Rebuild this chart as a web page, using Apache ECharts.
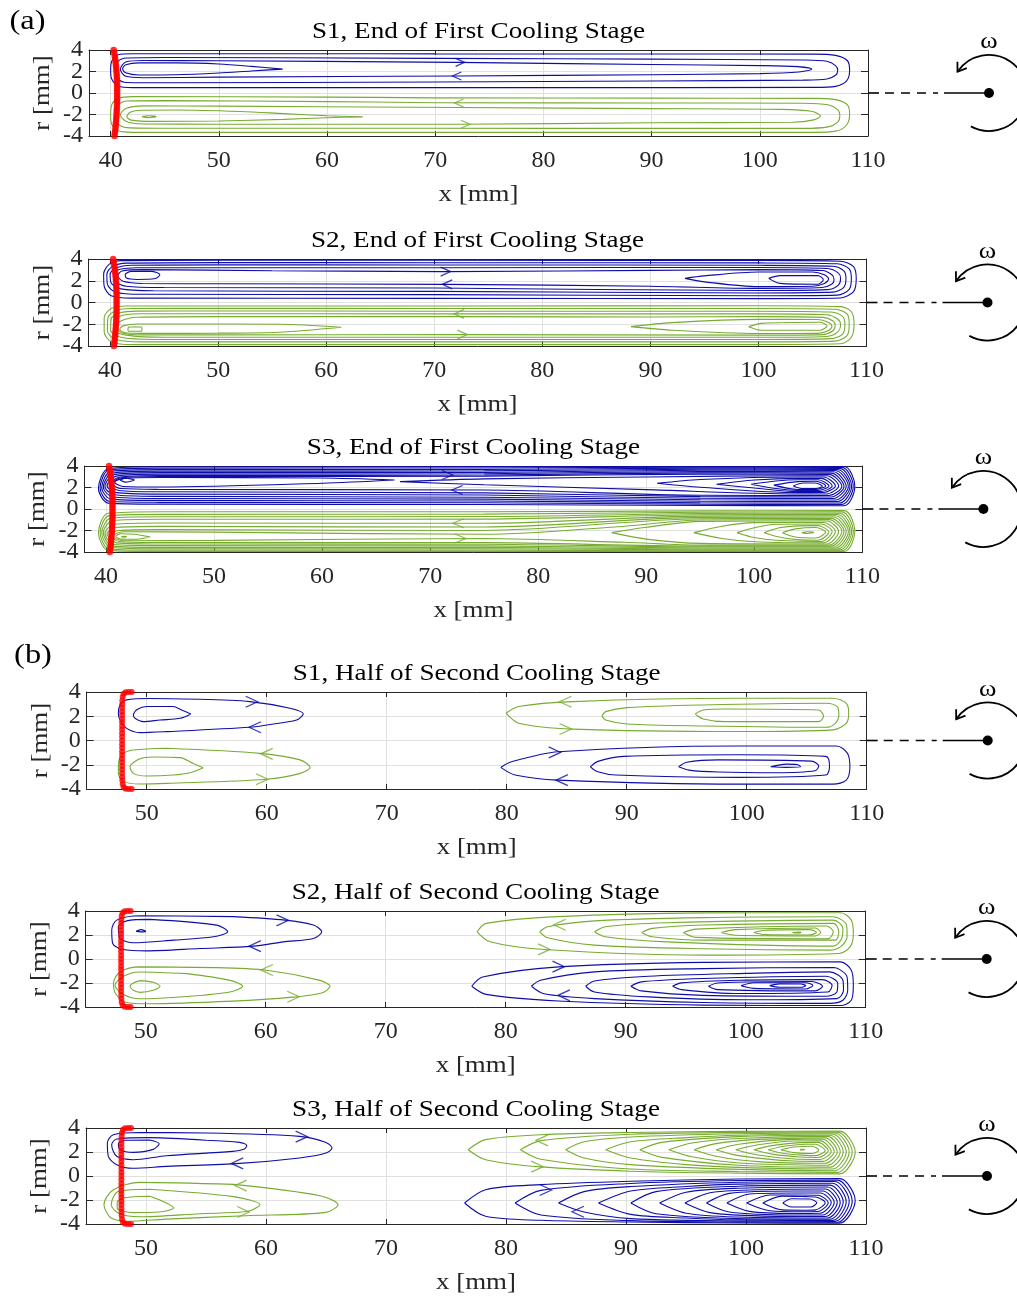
<!DOCTYPE html>
<html>
<head>
<meta charset="utf-8">
<script src="https://cdn.jsdelivr.net/npm/echarts/dist/echarts.min.js"></script>
<style>
html, body { margin: 0; padding: 0; background: #ffffff; }
#chart { width: 1017px; height: 1299px; }
</style>
</head>
<body>
<div id="chart"></div>
<script>
// ---------- tick values and titles ----------
const xTicksFirst = [40, 50, 60, 70, 80, 90, 100, 110];
const xTicksSecond = [50, 60, 70, 80, 90, 100, 110];
const rTicksOuter = [-4, 0, 4];
const rTicksInner = [-2, 2];
const panelTitles = [
  'S1, End of First Cooling Stage',
  'S2, End of First Cooling Stage',
  'S3, End of First Cooling Stage',
  'S1, Half of Second Cooling Stage',
  'S2, Half of Second Cooling Stage',
  'S3, Half of Second Cooling Stage'
];

// ---------- wall marker positions (x [mm], r [mm]) ----------
const wallFirstX = [40.28,40.33,40.37,40.41,40.44,40.47,40.5,40.52,40.54,40.56,40.57,40.58,40.59,40.6,40.6,40.6,40.6,40.6,40.6,40.6,40.59,40.58,40.57,40.56,40.55,40.53,40.51,40.49,40.47,40.45,40.42,40.39,40.35];
const wallFirstR = [4,3.75,3.5,3.25,3,2.75,2.5,2.25,2,1.75,1.5,1.25,1,0.75,0.5,0.25,0,-0.25,-0.5,-0.75,-1,-1.25,-1.5,-1.75,-2,-2.25,-2.5,-2.75,-3,-3.25,-3.5,-3.75,-4];
const wallSecondX = [48.75,48.5,48.25,48.08,48.0,47.97,47.96,47.95,47.95,47.95,47.95,47.95,47.95,47.95,47.95,47.95,47.95,47.95,47.95,47.95,47.95,47.95,47.95,47.95,47.95,47.95,47.96,47.97,48.0,48.08,48.25,48.5,48.75];
const wallSecondR = [4,4,3.97,3.85,3.6,3.3,3.0,2.7,2.4,2.1,1.8,1.5,1.2,0.9,0.6,0.3,0,-0.3,-0.6,-0.9,-1.2,-1.5,-1.8,-2.1,-2.4,-2.7,-3.0,-3.3,-3.6,-3.85,-3.97,-4,-4];

// ---------- streamline contours: each loop is a flat list x1,r1,x2,r2,... ----------
// S1, end of first cooling stage
const s1FirstBlue = [
  [70,3.64, 90,3.63, 105,3.62, 107,3.5, 108.1,3.0, 108.3,2.1, 108.0,1.1, 107,0.62, 105,0.52, 80,0.5, 60,0.5, 42,0.5, 40.7,0.65, 40.1,1.3, 40.0,2.1, 40.1,2.95, 40.7,3.55, 42,3.65, 60,3.65],
  [70,3.22, 90,3.15, 104,3.07, 106.2,2.95, 107.0,2.55, 107.2,2.1, 107.0,1.65, 106.2,1.3, 104,1.2, 90,1.12, 70,1.03, 45,0.95, 41.5,0.98, 40.7,1.3, 40.45,2.1, 40.7,2.95, 41.5,3.25, 45,3.3],
  [72,2.85, 90,2.65, 100,2.55, 103.5,2.45, 104.8,2.22, 103.6,1.95, 100,1.8, 90,1.7, 72,1.58, 50,1.48, 43,1.42, 41.4,1.55, 40.9,2.2, 41.4,2.88, 43,3.02, 50,3.0],
  [55.9,2.22, 53,2.48, 50,2.7, 46,2.8, 42.6,2.8, 41.4,2.62, 41.1,2.25, 41.4,1.88, 42.6,1.68, 46,1.7, 50,1.86, 53,2.05]
];
const s1FirstGreen = [
  [70,-0.45, 90,-0.48, 105,-0.5, 107,-0.62, 108.1,-1.1, 108.3,-2.0, 108.0,-3.0, 107,-3.55, 105,-3.66, 80,-3.66, 60,-3.66, 42,-3.66, 40.7,-3.52, 40.1,-2.9, 40.0,-2.1, 40.1,-1.1, 40.7,-0.5, 42,-0.34, 60,-0.38],
  [70,-0.9, 90,-0.93, 104,-0.96, 106.3,-1.1, 107.2,-1.55, 107.4,-2.1, 107.2,-2.7, 106.3,-3.15, 104,-3.29, 80,-3.29, 60,-3.28, 45,-3.28, 41.5,-3.22, 40.7,-2.9, 40.45,-2.1, 40.7,-1.1, 41.5,-0.74, 45,-0.71, 60,-0.8],
  [72,-1.35, 90,-1.45, 102,-1.52, 104.8,-1.7, 105.6,-2.15, 105.0,-2.5, 103,-2.72, 90,-2.77, 72,-2.9, 50,-2.9, 43,-2.88, 41.4,-2.62, 40.9,-2.05, 41.4,-1.45, 43,-1.2, 50,-1.22],
  [63.3,-2.22, 60,-2.12, 56,-1.92, 52,-1.72, 46,-1.58, 42.8,-1.6, 41.8,-1.8, 41.5,-2.2, 41.9,-2.52, 44,-2.64, 50,-2.6, 56,-2.45, 60,-2.3],
  [42.9,-2.2, 43.5,-2.12, 44.2,-2.2, 43.5,-2.29]
];
const s1FirstArrowsBlue = [[72.3,2.85,0],[72.0,1.58,180]];
const s1FirstArrowsGreen = [[72.2,-0.93,180],[72.8,-2.9,0]];

// S2, end of first cooling stage
const s2FirstBlue = [
  [70,3.88, 100,3.87, 107.6,3.8, 108.8,3.3, 109.05,2.2, 108.8,1.0, 107.6,0.42, 100,0.36, 70,0.38, 42,0.4, 40.1,0.62, 39.45,1.5, 39.4,2.6, 39.9,3.5, 41,3.85, 50,3.9],
  [70,3.66, 100,3.64, 107.3,3.56, 108.4,3.1, 108.6,2.2, 108.4,1.2, 107.3,0.68, 100,0.62, 70,0.72, 43,0.76, 40.5,0.95, 39.75,1.7, 39.7,2.6, 40.2,3.3, 41.5,3.62, 50,3.67],
  [70,3.45, 100,3.42, 106.9,3.33, 107.9,2.9, 108.1,2.2, 107.9,1.4, 106.9,0.95, 100,0.88, 70,1.02, 44,1.08, 41,1.25, 40.1,1.8, 40.0,2.6, 40.5,3.15, 42,3.42, 50,3.46],
  [70,3.2, 100,3.22, 106.4,3.12, 107.4,2.7, 107.6,2.2, 107.4,1.6, 106.4,1.18, 100,1.1, 70,1.33, 45,1.38, 41.5,1.5, 40.45,1.95, 40.35,2.6, 40.9,3.05, 42.5,3.2, 50,3.2],
  [71,2.84, 90,2.95, 100,3.02, 105.9,2.94, 106.8,2.55, 107.0,2.1, 106.8,1.7, 105.9,1.38, 100,1.3, 90,1.5, 71,1.67, 50,1.72, 43,1.75, 41.2,1.95, 40.7,2.45, 41.1,2.9, 43,3.02, 55,2.92],
  [93.2,2.22, 95,2.45, 100,2.8, 105,2.8, 106.1,2.55, 106.5,2.15, 106.1,1.75, 105,1.5, 100,1.46, 95,1.9],
  [100.95,2.22, 102,2.47, 105.5,2.47, 106.0,2.1, 105.5,1.68, 102,1.76],
  [41.4,2.62, 41.9,2.86, 43.8,2.86, 44.6,2.55, 44.2,2.2, 42.5,2.12, 41.5,2.25]
];
const s2FirstGreen = [
  [70,-0.32, 100,-0.3, 107.6,-0.38, 108.6,-0.85, 108.85,-2.0, 108.6,-3.2, 107.6,-3.8, 100,-3.87, 70,-3.87, 42,-3.87, 40.1,-3.6, 39.45,-2.7, 39.45,-1.4, 40.1,-0.55, 41.5,-0.32, 50,-0.32],
  [70,-0.55, 100,-0.55, 107.1,-0.62, 108.2,-1.05, 108.4,-2.0, 108.2,-3.05, 107.1,-3.55, 100,-3.62, 70,-3.62, 43,-3.62, 40.5,-3.4, 39.75,-2.6, 39.8,-1.4, 40.5,-0.75, 42,-0.55, 50,-0.54],
  [70,-0.8, 100,-0.8, 106.7,-0.88, 107.8,-1.3, 108.0,-2.0, 107.8,-2.9, 106.7,-3.32, 100,-3.4, 70,-3.4, 44,-3.4, 41,-3.2, 40.05,-2.55, 40.1,-1.5, 40.9,-0.95, 42.5,-0.79, 50,-0.78],
  [70,-1.05, 100,-1.05, 106.3,-1.12, 107.3,-1.5, 107.6,-2.05, 107.3,-2.75, 106.3,-3.12, 100,-3.2, 70,-3.2, 45,-3.2, 41.5,-3.0, 40.35,-2.5, 40.45,-1.6, 41.3,-1.15, 43,-1.03, 50,-1.03],
  [72,-1.3, 90,-1.33, 100,-1.3, 106,-1.37, 106.9,-1.7, 107.1,-2.1, 106.9,-2.6, 106,-2.95, 100,-3.0, 72,-2.95, 50,-2.98, 43,-2.98, 41.1,-2.8, 40.65,-2.3, 40.9,-1.75, 42.5,-1.35, 50,-1.3],
  [88.2,-2.22, 92,-1.85, 100,-1.55, 105.5,-1.57, 106.5,-1.85, 106.8,-2.2, 106.5,-2.58, 105.5,-2.84, 100,-2.85, 92,-2.55],
  [99.1,-2.22, 100.3,-1.92, 105.7,-1.82, 106.35,-2.15, 105.7,-2.55, 100.3,-2.55],
  [61.4,-2.28, 55.6,-2.0, 46,-1.98, 42.5,-1.98, 41.2,-2.15, 40.9,-2.45, 41.3,-2.76, 43,-2.84, 50,-2.82, 55.6,-2.74],
  [41.7,-2.25, 42.9,-2.25, 42.95,-2.45, 42.9,-2.64, 41.7,-2.64, 41.65,-2.45]
];
const s2FirstArrowsBlue = [[71.05,2.84,0],[71.2,1.67,180]];
const s2FirstArrowsGreen = [[72.3,-1.05,180],[72.6,-2.95,0]];

// S3, end of first cooling stage
const s3FirstBlue = [
  [45,3.93, 75,3.94, 95,3.95, 108.3,3.95, 109.3,2.1, 108.3,0.3, 95,0.33, 75,0.42, 45,0.45, 40.2,0.55, 39.3,1.9, 40.2,3.75],
  [45,3.8, 75,3.82, 95,3.88, 108.1,3.87, 109.15,2.1, 108.1,0.43, 95,0.45, 75,0.58, 45,0.62, 40.3,0.72, 39.45,1.95, 40.3,3.65],
  [45,3.66, 75,3.68, 95,3.8, 107.9,3.78, 109.0,2.1, 107.9,0.56, 95,0.58, 75,0.75, 45,0.8, 40.45,0.92, 39.6,2.0, 40.45,3.5],
  [45,3.52, 75,3.55, 95,3.7, 107.7,3.68, 108.85,2.1, 107.7,0.7, 95,0.72, 75,0.92, 45,0.98, 40.6,1.12, 39.75,2.05, 40.6,3.35],
  [45,3.38, 75,3.4, 95,3.6, 107.5,3.58, 108.7,2.1, 107.5,0.84, 95,0.86, 75,1.1, 45,1.17, 40.75,1.32, 39.9,2.1, 40.75,3.2],
  [45,3.24, 75,3.28, 95,3.48, 107.3,3.46, 108.5,2.1, 107.3,0.98, 95,1.0, 75,1.3, 45,1.38, 40.95,1.52, 40.1,2.15, 40.95,3.06],
  [45,3.12, 75,3.16, 95,3.36, 107.1,3.34, 108.3,2.1, 107.1,1.12, 95,1.15, 75,1.5, 45,1.6, 41.2,1.72, 40.35,2.25, 41.2,2.96],
  [45,3.03, 75,3.06, 95,3.24, 106.9,3.22, 108.1,2.1, 106.9,1.26, 95,1.28, 75,1.77, 45,1.82, 41.4,1.9, 40.55,2.35, 41.4,2.9],
  [66.7,2.7, 60,2.88, 45,2.93, 41.6,2.85, 40.8,2.5, 41.6,2.1, 45,2.05, 60,2.4],
  [41.3,2.7, 41.8,2.86, 42.6,2.7, 41.8,2.5],
  [67.2,2.55, 75,2.8, 90,2.98, 104,3.1, 106.7,3.1, 107.8,2.15, 106.7,1.4, 104,1.4, 90,1.8, 75,2.25],
  [91.0,2.39, 95,2.75, 104,2.98, 106.4,2.98, 107.5,2.15, 106.4,1.53, 104,1.52, 95,2.02],
  [96.5,2.3, 100,2.7, 104,2.85, 106.2,2.85, 107.2,2.15, 106.2,1.63, 104,1.62, 100,1.95],
  [99.7,2.3, 102,2.6, 104,2.72, 105.9,2.72, 106.9,2.15, 105.9,1.73, 104,1.72, 102,1.9],
  [101.8,2.22, 104,2.55, 105.7,2.58, 106.6,2.15, 105.7,1.83, 104,1.82],
  [103.6,2.15, 104.5,2.42, 105.6,2.42, 106.3,2.12, 105.6,1.9, 104.5,1.9]
];
const s3FirstGreen = [
  [45,-0.25, 75,-0.25, 95,-0.17, 108.3,-0.15, 109.3,-2.1, 108.3,-3.96, 95,-3.96, 75,-3.95, 45,-3.95, 40.2,-3.85, 39.3,-2.2, 40.2,-0.4],
  [45,-0.5, 75,-0.48, 95,-0.3, 108.1,-0.27, 109.15,-2.1, 108.1,-3.88, 95,-3.88, 75,-3.83, 45,-3.83, 40.3,-3.72, 39.45,-2.2, 40.3,-0.62],
  [45,-0.72, 75,-0.7, 95,-0.42, 107.9,-0.39, 109.0,-2.1, 107.9,-3.8, 95,-3.8, 75,-3.7, 45,-3.7, 40.45,-3.58, 39.6,-2.2, 40.45,-0.85],
  [45,-0.96, 75,-0.94, 95,-0.54, 107.7,-0.51, 108.85,-2.1, 107.7,-3.72, 95,-3.72, 75,-3.57, 45,-3.57, 40.6,-3.45, 39.75,-2.2, 40.6,-1.08],
  [45,-1.3, 75,-1.33, 95,-0.66, 107.5,-0.63, 108.7,-2.1, 107.5,-3.63, 95,-3.63, 75,-3.43, 45,-3.41, 40.75,-3.3, 39.9,-2.25, 40.75,-1.42],
  [45,-1.62, 75,-1.68, 95,-0.78, 107.3,-0.75, 108.5,-2.1, 107.3,-3.54, 95,-3.54, 75,-3.28, 45,-3.26, 40.95,-3.15, 40.1,-2.3, 40.95,-1.72],
  [45,-1.92, 75,-2.0, 95,-0.9, 107.1,-0.87, 108.3,-2.1, 107.1,-3.45, 95,-3.45, 75,-3.13, 45,-3.12, 41.2,-3.02, 40.35,-2.4, 41.2,-2.0],
  [50,-2.15, 75,-2.35, 88,-1.6, 95,-1.03, 106.9,-0.99, 108.1,-2.1, 106.9,-3.36, 95,-3.36, 88,-3.1, 75,-2.75, 50,-2.92, 41.6,-2.95, 40.6,-2.55, 41.6,-2.12],
  [44.1,-2.6, 42.6,-2.35, 41.4,-2.3, 40.9,-2.55, 41.4,-2.8, 42.6,-2.82],
  [41.4,-2.58, 41.65,-2.54, 41.9,-2.58, 41.65,-2.62],
  [86.8,-2.2, 90,-1.7, 95,-1.15, 106.7,-1.11, 107.8,-2.1, 106.7,-3.26, 95,-3.2, 90,-2.8],
  [94.4,-2.2, 97,-1.6, 100,-1.27, 106.4,-1.25, 107.5,-2.1, 106.4,-3.15, 100,-3.05, 97,-2.75],
  [98.4,-2.2, 100,-1.75, 102,-1.42, 106.2,-1.4, 107.2,-2.1, 106.2,-3.03, 102,-2.9, 100,-2.65],
  [100.9,-2.2, 102.3,-1.75, 104,-1.57, 105.9,-1.55, 106.9,-2.15, 105.9,-2.9, 104,-2.85, 102.3,-2.6],
  [102.6,-2.2, 103.8,-1.85, 105.7,-1.72, 106.6,-2.15, 105.7,-2.7, 103.8,-2.6],
  [104.4,-2.2, 104.9,-2.12, 105.5,-2.18, 104.9,-2.28]
];
const s3FirstArrowsBlue = [[71.6,3.16,0],[72.5,1.77,180]];
const s3FirstArrowsGreen = [[72.6,-1.33,180],[72.8,-2.75,0]];

// S1, half of second cooling stage
const s1SecondBlue = [
  [54.44,3.4, 58.6,3.21, 61.94,2.66, 63.05,2.19, 62.5,1.69, 60.0,1.28, 58.6,1.09, 51.67,0.73, 49.45,0.65, 48.33,1.0, 47.78,1.69, 47.64,2.19, 47.78,2.93, 48.33,3.35, 50.28,3.46],
  [53.69,2.19, 52.78,1.83, 51.11,1.69, 49.72,1.56, 49.03,1.83, 48.89,2.11, 49.2,2.55, 50.0,2.8, 52.2,2.8, 52.91,2.52],
  [79.5,-2.22, 80.4,-1.75, 84.3,-0.93, 99.4,-0.45, 107.5,-0.45, 108.4,-1.06, 108.6,-2.17, 108.3,-3.27, 107.2,-3.6, 99.4,-3.6, 84.3,-3.27, 80.7,-2.85],
  [86.97,-2.17, 87.6,-1.72, 89.75,-1.31, 99.4,-1.17, 106.6,-1.31, 106.9,-2.17, 106.6,-2.85, 99.4,-3.04, 89.1,-2.85, 87.6,-2.58],
  [94.33,-2.17, 95.0,-1.8, 97.6,-1.6, 105.4,-1.7, 106.0,-2.1, 105.7,-2.5, 102.4,-2.66, 97.6,-2.6, 95.2,-2.44],
  [102.0,-2.17, 103.3,-1.95, 104.2,-1.98, 104.5,-2.17, 103.3,-2.22]
];
const s1SecondGreen = [
  [51.67,-0.64, 59.44,-1.06, 62.78,-1.6, 63.61,-2.22, 62.8,-2.71, 60.0,-3.2, 51.67,-3.54, 49.45,-3.59, 48.0,-3.35, 47.64,-2.7, 47.64,-2.17, 47.9,-1.2, 48.89,-0.79],
  [54.72,-2.25, 53.61,-2.66, 52.22,-2.85, 50.0,-2.93, 48.89,-2.71, 48.61,-2.17, 49.44,-1.5, 50.56,-1.36, 52.78,-1.41, 53.89,-1.9],
  [79.94,2.25, 81.0,2.8, 85.5,3.21, 99.4,3.48, 107.2,3.48, 108.3,3.07, 108.5,2.25, 108.3,1.43, 107.2,0.88, 99.4,0.74, 85.5,0.94, 81.0,1.43],
  [87.94,2.03, 88.24,2.38, 90.05,2.71, 96.38,2.93, 106.62,3.07, 107.53,2.79, 107.68,2.11, 107.38,1.42, 106.62,1.09, 96.38,1.2, 90.05,1.36, 88.24,1.69],
  [95.71,2.19, 96.38,2.52, 98.2,2.6, 106.0,2.52, 106.4,1.97, 106.0,1.56, 98.2,1.56, 96.38,1.78]
];
const s1SecondArrowsBlue = [[58.75,3.2,0],[59.03,1.09,180],[84.0,-0.98,0],[84.6,-3.27,180]];
const s1SecondArrowsGreen = [[60.0,-1.1,180],[59.6,-3.2,0],[84.9,3.2,180],[84.9,0.95,0]];

// S2, half of second cooling stage
const s2SecondBlue = [
  [57.3,3.53, 61.6,3.24, 63.97,2.83, 64.67,2.27, 63.97,1.71, 61.47,1.43, 58.97,1.07, 54.5,0.87, 50.06,0.68, 48.1,0.79, 47.25,1.29, 47.17,2.41, 47.58,3.24, 49.53,3.61],
  [50.36,3.3, 55.92,2.82, 56.83,2.27, 55.64,1.85, 52.3,1.57, 48.97,1.35, 47.86,1.72, 47.72,2.68, 48.42,3.18],
  [49.2,2.3, 49.6,2.45, 50.0,2.3, 49.6,2.26],
  [77.17,-2.27, 78.07,-1.5, 84.4,-0.66, 96.46,-0.28, 107.9,-0.24, 108.8,-0.93, 108.97,-2.19, 108.8,-3.44, 107.9,-3.88, 96.46,-3.84, 84.4,-3.5, 78.37,-2.95],
  [82.14,-2.27, 82.9,-1.77, 87.4,-1.07, 96.5,-0.8, 107.3,-0.71, 108.45,-1.5, 108.5,-2.61, 108.1,-3.44, 107.0,-3.7, 96.5,-3.62, 87.4,-3.3, 83.2,-2.9],
  [86.66,-2.27, 87.4,-1.83, 91.9,-1.44, 100,-1.2, 107.0,-1.07, 108.1,-1.77, 108.15,-2.61, 107.6,-3.3, 100,-3.4, 91.9,-3.16, 87.4,-2.75],
  [90.43,-2.27, 91.3,-1.91, 96.46,-1.63, 106.7,-1.44, 107.67,-2.05, 107.6,-2.75, 106.7,-3.11, 96.46,-3.03, 91.3,-2.66],
  [93.9,-2.27, 94.65,-1.99, 99.5,-1.77, 106.4,-1.72, 107.2,-2.19, 106.85,-2.75, 99.5,-2.88, 94.65,-2.55],
  [96.9,-2.27, 97.66,-2.0, 105.5,-1.88, 106.4,-2.27, 105.8,-2.66, 97.66,-2.55],
  [99.62,-2.22, 100.68,-1.98, 105.0,-1.98, 105.6,-2.2, 105.0,-2.5, 100.68,-2.45],
  [102.0,-2.22, 102.8,-2.07, 104.6,-2.08, 105.0,-2.22, 104.6,-2.36, 102.8,-2.36]
];
const s2SecondGreen = [
  [55.92,-0.72, 60.08,-0.94, 64.53,-1.78, 65.36,-2.28, 64.67,-2.84, 62.22,-3.18, 57.22,-3.51, 50.28,-3.73, 48.33,-3.6, 47.5,-2.9, 47.31,-2.05, 47.86,-1.08, 49.53,-0.66],
  [53.42,-1.22, 57.03,-1.78, 58.08,-2.28, 57.03,-2.75, 53.42,-3.12, 49.53,-3.31, 48.14,-2.95, 47.44,-2.19, 48.14,-1.44, 49.53,-1.08],
  [49.53,-1.8, 50.64,-1.94, 51.2,-2.28, 50.64,-2.61, 49.53,-2.78, 48.97,-2.61, 48.69,-2.28, 48.97,-2.0],
  [77.62,2.27, 78.37,2.97, 84.4,3.53, 96.46,3.84, 107.9,3.86, 108.8,3.24, 108.97,2.13, 108.7,1.01, 107.76,0.46, 96.46,0.32, 83.2,0.79, 78.7,1.43],
  [82.83,2.27, 83.5,2.69, 87.4,3.18, 96.5,3.45, 107.3,3.52, 108.4,2.83, 108.45,1.85, 107.9,1.01, 107.0,0.74, 96.5,0.85, 87.4,1.16, 83.5,1.77],
  [87.4,2.27, 88.3,2.69, 93.4,3.02, 107.3,3.24, 108.1,2.55, 108.0,1.71, 107.3,1.07, 93.4,1.43, 88.3,1.85],
  [91.33,2.21, 92.2,2.55, 96.5,2.83, 107.3,2.97, 107.76,2.27, 107.46,1.57, 96.5,1.57, 92.2,1.85],
  [94.8,2.21, 95.85,2.49, 106.7,2.75, 107.3,2.27, 106.86,1.68, 95.85,1.8],
  [97.96,2.21, 99.17,2.45, 105.8,2.58, 106.25,2.21, 105.8,1.92, 99.17,1.98],
  [100.68,2.21, 101.6,2.4, 105.35,2.45, 105.9,2.2, 105.2,2.0, 101.6,2.03],
  [103.9,2.2, 104.5,2.24, 104.6,2.2, 104.5,2.17]
];
const s2SecondArrowsBlue = [[61.4,3.22,0],[59.1,1.07,180],[84.4,-0.64,0],[84.85,-3.03,180]];
const s2SecondArrowsGreen = [[60.1,-0.92,180],[62.3,-3.15,0],[84.5,2.85,180],[83.2,0.8,0]];

// S3, half of second cooling stage
const s3SecondBlue = [
  [55,3.58, 62.8,3.3, 65.0,2.8, 65.5,2.33, 65.0,1.91, 62.8,1.5, 57.8,1.05, 51.7,0.8, 48.9,0.64, 47.56,0.94, 46.86,1.64, 46.78,2.75, 47.28,3.44, 49.5,3.63],
  [55,2.98, 57.8,2.8, 58.4,2.55, 58.2,2.25, 57.2,2.05, 51.7,1.69, 48.94,1.36, 47.56,1.64, 47.14,2.61, 47.56,3.08, 50.33,3.2],
  [50.3,3.0, 51.1,2.69, 50.6,2.22, 48.94,1.97, 47.83,2.19, 47.7,2.7, 48.3,2.98],
  [76.54,-2.25, 78.3,-1.14, 82.9,-0.72, 90.4,-0.44, 99.4,-0.25, 107.8,-0.22, 109.1,-2.05, 107.8,-3.93, 99.4,-3.92, 90.4,-3.83, 82.9,-3.69, 78.3,-3.36],
  [80.75,-2.25, 82.9,-1.2, 90.4,-0.62, 99.4,-0.38, 107.6,-0.34, 108.85,-2.1, 107.6,-3.86, 99.4,-3.84, 90.4,-3.72, 82.9,-3.25],
  [84.37,-2.25, 86.5,-1.3, 90.4,-0.88, 99.4,-0.52, 107.4,-0.46, 108.6,-2.1, 107.4,-3.78, 99.4,-3.76, 90.4,-3.55, 86.5,-3.0],
  [87.7,-2.25, 90.4,-1.25, 95,-0.88, 99.4,-0.68, 107.2,-0.6, 108.35,-2.15, 107.2,-3.7, 99.4,-3.66, 95,-3.5, 90.4,-3.2],
  [90.4,-2.25, 92.5,-1.3, 99.4,-0.85, 107.0,-0.76, 108.1,-2.15, 107.0,-3.6, 99.4,-3.55, 92.5,-3.15],
  [92.8,-2.25, 95,-1.35, 99.4,-1.02, 106.8,-0.92, 107.85,-2.2, 106.8,-3.5, 99.4,-3.42, 95,-3.1],
  [94.9,-2.25, 97,-1.4, 101,-1.15, 106.6,-1.08, 107.6,-2.2, 106.6,-3.38, 101,-3.32, 97,-3.05],
  [96.7,-2.25, 98.6,-1.45, 104,-1.25, 106.4,-1.25, 107.35,-2.2, 106.4,-3.25, 104,-3.25, 98.6,-3.0],
  [98.4,-2.25, 100.3,-1.5, 104,-1.42, 106.2,-1.42, 107.1,-2.2, 106.2,-3.1, 104,-3.12, 100.3,-2.95],
  [100.05,-2.25, 102,-1.58, 104.5,-1.58, 106.0,-1.6, 106.85,-2.22, 106.0,-2.96, 104.5,-2.98, 102,-2.9],
  [101.4,-2.25, 103,-1.68, 105,-1.72, 105.8,-1.75, 106.6,-2.22, 105.8,-2.82, 105,-2.85, 103,-2.82],
  [103.06,-2.25, 103.8,-1.9, 105.3,-1.92, 105.9,-2.22, 105.4,-2.58, 103.8,-2.58]
];
const s3SecondGreen = [
  [57.3,-0.7, 64.5,-1.64, 66.0,-2.39, 65.0,-3.03, 58.3,-3.31, 51.7,-3.59, 48.4,-3.78, 47.1,-3.5, 46.67,-2.94, 46.5,-2.39, 47.28,-1.14, 49.5,-0.53],
  [50.3,-1.1, 57.3,-1.72, 59.5,-2.39, 58.5,-2.94, 54.5,-3.14, 49.5,-3.4, 47.8,-3.15, 47.1,-2.39, 47.67,-1.3],
  [50.33,-1.69, 51.7,-2.25, 52.3,-2.67, 51.1,-3.0, 48.9,-3.05, 47.6,-2.7, 47.6,-2.2, 48.06,-1.84],
  [76.84,2.19, 78.3,3.03, 82.9,3.44, 90.4,3.63, 99.4,3.72, 107.8,3.74, 109.1,2.0, 107.8,0.18, 99.4,0.24, 90.4,0.4, 82.9,0.76, 78.3,1.36],
  [81.2,2.19, 82.9,2.95, 90.4,3.48, 99.4,3.63, 107.6,3.66, 108.85,2.0, 107.6,0.3, 99.4,0.38, 90.4,0.58, 82.9,1.4],
  [84.97,2.19, 86.5,2.85, 90.4,3.25, 99.4,3.52, 107.4,3.58, 108.6,2.0, 107.4,0.44, 99.4,0.55, 90.4,0.95, 86.5,1.5],
  [88.3,2.19, 90.4,2.85, 95,3.2, 99.4,3.4, 107.2,3.5, 108.35,2.0, 107.2,0.58, 99.4,0.72, 95,0.95, 90.4,1.5],
  [91.15,2.19, 93,2.8, 99.4,3.28, 107.0,3.4, 108.1,2.0, 107.0,0.74, 99.4,0.9, 93,1.55],
  [93.57,2.19, 95.5,2.75, 99.4,3.12, 106.8,3.3, 107.85,2.0, 106.8,0.9, 99.4,1.08, 95.5,1.6],
  [95.67,2.19, 97.5,2.7, 101,3.05, 106.6,3.18, 107.6,2.0, 106.6,1.06, 101,1.2, 97.5,1.65],
  [97.5,2.19, 99.4,2.65, 104,3.05, 106.4,3.06, 107.35,2.05, 106.4,1.22, 104,1.25, 99.4,1.7],
  [99.14,2.19, 101,2.6, 104,2.92, 106.2,2.93, 107.1,2.05, 106.2,1.38, 104,1.42, 101,1.75],
  [100.65,2.19, 102.3,2.55, 104.5,2.78, 106.0,2.8, 106.85,2.1, 106.0,1.54, 104.5,1.58, 102.3,1.8],
  [101.85,2.19, 103.3,2.5, 105,2.64, 105.8,2.65, 106.6,2.1, 105.8,1.7, 105,1.72, 103.3,1.85],
  [102.9,2.19, 104,2.42, 105.5,2.48, 106.07,2.15, 105.5,1.87, 104,1.95],
  [104.5,2.2, 104.7,2.23, 104.9,2.2, 104.7,2.17]
];
const s3SecondArrowsBlue = [[62.97,3.28,0],[57.6,1.05,180],[83.3,-1.17,0],[86.0,-2.98,180]];
const s3SecondArrowsGreen = [[57.9,-0.8,180],[58.1,-3.0,0],[83.0,2.97,180],[82.6,0.78,0]];

// ---------- styling and page layout ----------
const BLUE = '#0d0da8';
const GREEN = '#77ac30';
const RED = '#ff0000';
const AXIS = '#262626';
const GRIDLINE = '#e0e0e0';
const FONT = '"Liberation Serif", "Times New Roman", serif';
const CHEVRON = 'path://M0,0L10,5L0,10';

const layout = [
  { left: 89,   top: 50,   width: 779, height: 86 },
  { left: 88.5, top: 259,  width: 778, height: 87 },
  { left: 84.4, top: 466,  width: 778, height: 86 },
  { left: 86.7, top: 692,  width: 780, height: 97 },
  { left: 85.7, top: 911,  width: 780, height: 96 },
  { left: 86,   top: 1128, width: 780, height: 96 }
];

const panels = [
  { xMin: 38, ticks: xTicksFirst,  wallX: wallFirstX,  wallR: wallFirstR,  blue: s1FirstBlue,  green: s1FirstGreen,  arrowsBlue: s1FirstArrowsBlue,  arrowsGreen: s1FirstArrowsGreen,  arrowSize: [9, 8],   wallSize: 6.5 },
  { xMin: 38, ticks: xTicksFirst,  wallX: wallFirstX,  wallR: wallFirstR,  blue: s2FirstBlue,  green: s2FirstGreen,  arrowsBlue: s2FirstArrowsBlue,  arrowsGreen: s2FirstArrowsGreen,  arrowSize: [10, 9],  wallSize: 6.5 },
  { xMin: 38, ticks: xTicksFirst,  wallX: wallFirstX,  wallR: wallFirstR,  blue: s3FirstBlue,  green: s3FirstGreen,  arrowsBlue: s3FirstArrowsBlue,  arrowsGreen: s3FirstArrowsGreen,  arrowSize: [11, 9],  wallSize: 6.5 },
  { xMin: 45, ticks: xTicksSecond, wallX: wallSecondX, wallR: wallSecondR, blue: s1SecondBlue, green: s1SecondGreen, arrowsBlue: s1SecondArrowsBlue, arrowsGreen: s1SecondArrowsGreen, arrowSize: [12, 11], wallSize: 6 },
  { xMin: 45, ticks: xTicksSecond, wallX: wallSecondX, wallR: wallSecondR, blue: s2SecondBlue, green: s2SecondGreen, arrowsBlue: s2SecondArrowsBlue, arrowsGreen: s2SecondArrowsGreen, arrowSize: [12, 11], wallSize: 6 },
  { xMin: 45, ticks: xTicksSecond, wallX: wallSecondX, wallR: wallSecondR, blue: s3SecondBlue, green: s3SecondGreen, arrowsBlue: s3SecondArrowsBlue, arrowsGreen: s3SecondArrowsGreen, arrowSize: [12, 11], wallSize: 6 }
];

// ---------- build grids, axes and series ----------
const grid = [], xAxis = [], yAxis = [], series = [];

const tickStyle = { color: AXIS, width: 1 };
const labelStyle = { color: '#262626', fontFamily: FONT, fontSize: 24 };

panels.forEach((p, i) => {
  grid.push(Object.assign({ show: false, containLabel: false }, layout[i]));

  const xCommon = { gridIndex: i, type: 'value', min: p.xMin, max: 110 };
  xAxis.push(Object.assign({}, xCommon, {
    position: 'bottom',
    axisLine: { show: true, onZero: false, lineStyle: tickStyle },
    axisTick: { show: true, inside: true, length: 5, customValues: p.ticks, lineStyle: tickStyle },
    axisLabel: Object.assign({ show: true, margin: 13, customValues: p.ticks, showMinLabel: true, showMaxLabel: true }, labelStyle),
    splitLine: { show: true, lineStyle: { color: GRIDLINE, width: 1 } }
  }));
  xAxis.push(Object.assign({}, xCommon, {
    position: 'top',
    axisLine: { show: true, onZero: false, lineStyle: tickStyle },
    axisTick: { show: true, inside: true, length: 5, customValues: p.ticks, lineStyle: tickStyle },
    axisLabel: { show: false },
    splitLine: { show: false }
  }));

  // r axis: main left axis (line, ticks, grid, labels -4/0/4),
  // right mirror for the box, and a second left axis carrying the -2/2 labels
  const yCommon = { gridIndex: i, type: 'value', min: -4, max: 4, interval: 2 };
  yAxis.push(Object.assign({}, yCommon, {
    position: 'left',
    axisLine: { show: true, onZero: false, lineStyle: tickStyle },
    axisTick: { show: true, inside: true, length: 7, lineStyle: tickStyle },
    axisLabel: Object.assign({ show: true, margin: 6, customValues: rTicksOuter, showMinLabel: true, showMaxLabel: true }, labelStyle),
    splitLine: { show: true, lineStyle: { color: GRIDLINE, width: 1 } }
  }));
  yAxis.push(Object.assign({}, yCommon, {
    position: 'right',
    axisLine: { show: true, onZero: false, lineStyle: tickStyle },
    axisTick: { show: true, inside: true, length: 7, lineStyle: tickStyle },
    axisLabel: { show: false },
    splitLine: { show: false }
  }));
  yAxis.push(Object.assign({}, yCommon, {
    position: 'left', offset: 0,
    axisLine: { show: false, onZero: false },
    axisTick: { show: false },
    axisLabel: Object.assign({ show: true, margin: 6, customValues: rTicksInner, showMinLabel: true, showMaxLabel: true }, labelStyle),
    splitLine: { show: false }
  }));

  const axes = { xAxisIndex: 2 * i, yAxisIndex: 3 * i };

  const addLoops = (loops, color) => loops.forEach(flat => {
    const pts = [];
    for (let k = 0; k < flat.length; k += 2) pts.push([flat[k], flat[k + 1]]);
    pts.push(pts[0]);
    series.push(Object.assign({
      type: 'line', data: pts, smooth: 0.3, symbol: 'none', showSymbol: false,
      silent: true, z: 2, lineStyle: { color: color, width: 1.1 }
    }, axes));
  });
  addLoops(p.blue, BLUE);
  addLoops(p.green, GREEN);

  [[p.arrowsBlue, BLUE], [p.arrowsGreen, GREEN]].forEach(([arr, color]) => {
    series.push(Object.assign({
      type: 'scatter', data: arr, symbol: CHEVRON, symbolSize: p.arrowSize,
      symbolRotate: v => v[2], silent: true, z: 3,
      itemStyle: { color: 'rgba(0,0,0,0)', borderColor: color, borderWidth: 1.3 }
    }, axes));
  });

  series.push(Object.assign({
    type: 'scatter', data: p.wallX.map((x, k) => [x, p.wallR[k]]),
    symbol: 'circle', symbolSize: p.wallSize, silent: true, z: 4,
    itemStyle: { color: RED }
  }, axes));
});

// ---------- text and rotation icons ----------
const graphic = [];
function addText(text, x, y, size, opts) {
  opts = opts || {};
  graphic.push({
    type: 'text', x: x, y: y, rotation: opts.rotation || 0,
    scaleX: opts.scaleX || 1, silent: true, z: 10,
    style: {
      text: text, font: size + 'px ' + FONT, fill: opts.color || '#000',
      textAlign: 'center', textVerticalAlign: 'middle', align: 'center', verticalAlign: 'middle'
    }
  });
}

addText('(a)', 27.5, 22, 27, { scaleX: 1.2 });
addText('(b)', 33, 656, 27, { scaleX: 1.2 });

layout.forEach((g, i) => {
  const cxGrid = g.left + g.width / 2;
  const cyGrid = g.top + g.height / 2;
  addText(panelTitles[i], cxGrid, g.top - 18, 23, { scaleX: 1.18 });
  addText('x [mm]', cxGrid, g.top + g.height + 59, 23, { scaleX: 1.17, color: '#262626' });
  addText('r [mm]', g.left - 46, cyGrid, 23, { scaleX: 1.17, rotation: Math.PI / 2, color: '#262626' });

  // rotation axis with the spin direction marker
  const x0 = g.left + g.width;
  const cx = x0 + 121, cy = cyGrid, R = 38;
  const ink = { stroke: '#000', lineWidth: 1.6 };
  graphic.push({ type: 'line', silent: true, z: 10, shape: { x1: x0, y1: cy, x2: x0 + 11, y2: cy }, style: ink });
  graphic.push({ type: 'line', silent: true, z: 10, shape: { x1: x0 + 17, y1: cy, x2: x0 + 70, y2: cy }, style: Object.assign({ lineDash: [9, 7] }, ink) });
  graphic.push({ type: 'line', silent: true, z: 10, shape: { x1: x0 + 76, y1: cy, x2: cx, y2: cy }, style: ink });
  graphic.push({ type: 'circle', silent: true, z: 10, shape: { cx: cx, cy: cy, r: 5 }, style: { fill: '#000' } });
  const a0 = 214 * Math.PI / 180, a1 = 118.5 * Math.PI / 180;
  graphic.push({ type: 'arc', silent: true, z: 10, shape: { cx: cx, cy: cy, r: R, startAngle: a0, endAngle: a1, clockwise: true }, style: { stroke: '#000', lineWidth: 1.8, fill: null } });
  const tx = cx + R * Math.cos(a0), ty = cy + R * Math.sin(a0);
  const dx = Math.sin(a0), dy = -Math.cos(a0);
  const wing = (ang) => {
    const c = Math.cos(ang), s = Math.sin(ang);
    return [tx - 10 * (dx * c - dy * s), ty - 10 * (dx * s + dy * c)];
  };
  graphic.push({ type: 'polyline', silent: true, z: 10, shape: { points: [wing(0.6), [tx, ty], wing(-0.6)] }, style: { stroke: '#000', lineWidth: 1.8, fill: null } });
  addText('\u03c9', cx, cy - 51, 24, { scaleX: 1.1 });
});

const chart = echarts.init(document.getElementById('chart'), null, { renderer: 'canvas' });
chart.setOption({
  animation: false,
  backgroundColor: '#ffffff',
  grid: grid,
  xAxis: xAxis,
  yAxis: yAxis,
  series: series,
  graphic: graphic
});
</script>
</body>
</html>
